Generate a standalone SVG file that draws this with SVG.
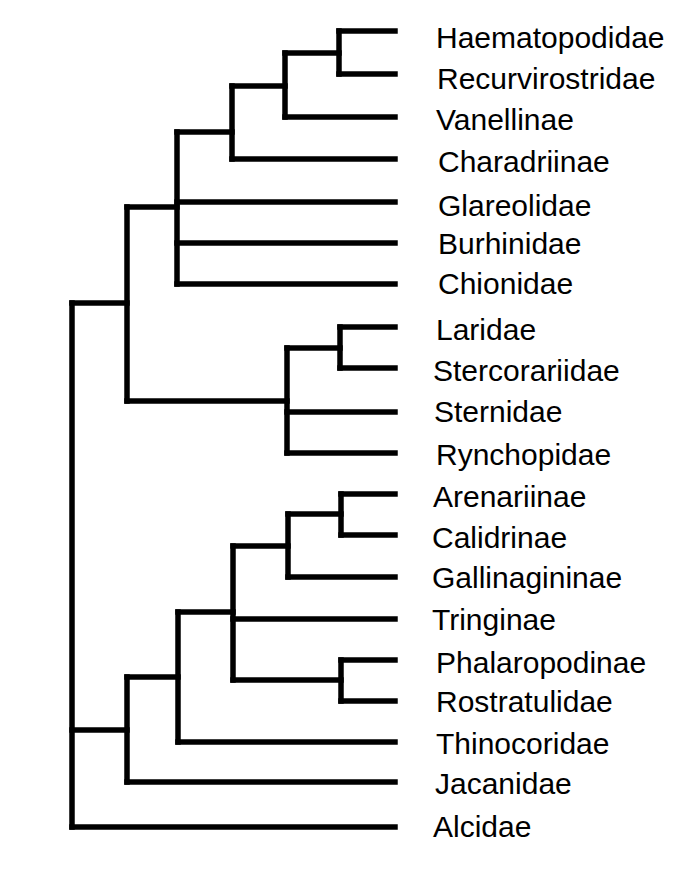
<svg xmlns="http://www.w3.org/2000/svg" width="685" height="878" viewBox="0 0 685 878">
<style>
.br{stroke:#000;stroke-width:5.5;stroke-linecap:square;fill:none}
.lb{font-family:"Liberation Sans",Arial,sans-serif;font-size:30px;fill:#000}
</style>
<rect width="685" height="878" fill="#fff"/>
<g id="connectors" class="br">
<path d="M72,303 V827"/>
<path d="M72,303 H127"/>
<path d="M72,730 H127"/>
<path d="M127,207 V401"/>
<path d="M127,207 H177"/>
<path d="M127,401 H287"/>
<path d="M177,132 V284"/>
<path d="M177,132 H232"/>
<path d="M232,86 V159"/>
<path d="M232,86 H285"/>
<path d="M285,53 V117"/>
<path d="M285,53 H339"/>
<path d="M339,31 V74"/>
<path d="M287,348 V453"/>
<path d="M287,348 H340"/>
<path d="M340,327 V368"/>
<path d="M127,677 V782"/>
<path d="M127,677 H178"/>
<path d="M178,612 V742"/>
<path d="M178,612 H233"/>
<path d="M233,546 V680"/>
<path d="M233,546 H288"/>
<path d="M233,680 H341"/>
<path d="M288,514 V577"/>
<path d="M288,514 H341"/>
<path d="M341,494 V535"/>
<path d="M341,660 V701"/>
<path d="M339,31 H395"/>
<path d="M339,74 H395"/>
<path d="M285,117 H395"/>
<path d="M232,159 H395"/>
<path d="M177,202 H395"/>
<path d="M177,243 H395"/>
<path d="M177,284 H395"/>
<path d="M340,327 H395"/>
<path d="M340,368 H395"/>
<path d="M287,412 H395"/>
<path d="M287,453 H395"/>
<path d="M341,494 H395"/>
<path d="M341,535 H395"/>
<path d="M288,577 H395"/>
<path d="M233,619 H395"/>
<path d="M341,660 H395"/>
<path d="M341,701 H395"/>
<path d="M178,742 H395"/>
<path d="M127,782 H395"/>
<path d="M72,827 H395"/>
</g>
<g id="n-haematopodidae"><text class="lb" x="436" y="48">Haematopodidae</text></g>
<g id="n-recurvirostridae"><text class="lb" x="437" y="89">Recurvirostridae</text></g>
<g id="n-vanellinae"><text class="lb" x="436" y="130">Vanellinae</text></g>
<g id="n-charadriinae"><text class="lb" x="438" y="172">Charadriinae</text></g>
<g id="n-glareolidae"><text class="lb" x="438" y="216">Glareolidae</text></g>
<g id="n-burhinidae"><text class="lb" x="438" y="254">Burhinidae</text></g>
<g id="n-chionidae"><text class="lb" x="438" y="294">Chionidae</text></g>
<g id="n-laridae"><text class="lb" x="436" y="340">Laridae</text></g>
<g id="n-stercorariidae"><text class="lb" x="433" y="381">Stercorariidae</text></g>
<g id="n-sternidae"><text class="lb" x="434" y="422">Sternidae</text></g>
<g id="n-rynchopidae"><text class="lb" x="436" y="465">Rynchopidae</text></g>
<g id="n-arenariinae"><text class="lb" x="433" y="507">Arenariinae</text></g>
<g id="n-calidrinae"><text class="lb" x="432" y="548">Calidrinae</text></g>
<g id="n-gallinagininae"><text class="lb" x="432" y="588">Gallinagininae</text></g>
<g id="n-tringinae"><text class="lb" x="432" y="630">Tringinae</text></g>
<g id="n-phalaropodinae"><text class="lb" x="436" y="673">Phalaropodinae</text></g>
<g id="n-rostratulidae"><text class="lb" x="436" y="712">Rostratulidae</text></g>
<g id="n-thinocoridae"><text class="lb" x="436" y="754">Thinocoridae</text></g>
<g id="n-jacanidae"><text class="lb" x="435" y="794">Jacanidae</text></g>
<g id="n-alcidae"><text class="lb" x="433" y="837">Alcidae</text></g>
</svg>
